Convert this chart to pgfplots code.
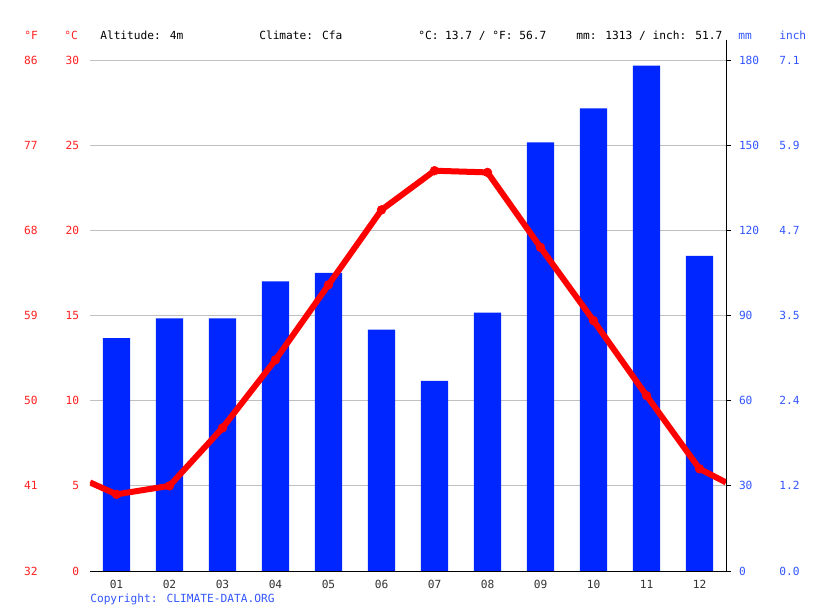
\documentclass[border=0pt]{standalone}
\usepackage{pgfplots}
\pgfplotsset{compat=1.18}
\usepackage{fontspec}
\setmainfont{DejaVu Sans Mono}
\definecolor{barblue}{HTML}{0026FF}
\definecolor{lblblue}{HTML}{3355FF}
\definecolor{lblred}{HTML}{FF2020}
\definecolor{gridgray}{HTML}{C0C0C0}
\definecolor{txtgray}{HTML}{333333}
\begin{document}
\fontsize{8.4}{10}\selectfont
\begin{tikzpicture}
\begin{axis}[name=ax,
  scale only axis, width=477pt, height=383.25pt,
  xmin=0.5, xmax=12.5, ymin=0, ymax=180,
  axis x line=bottom, axis y line=right,
  axis line style={-, black, line width=0.7pt},
  ytick={0,30,...,180},
  ymajorgrids, grid style={gridgray, line width=0.6pt},
  yticklabel style={lblblue, xshift=3pt},
  ytick style={black, line width=0.7pt},
  major tick length=3.75pt,
  tick align=outside,
  xtick={1,...,12},
  xticklabels={01,02,03,04,05,06,07,08,09,10,11,12},
  xticklabel style={txtgray},
  xtick style={draw=none},
  extra x ticks={0.5,1.5,...,12.5},
  extra x tick labels={},
  extra x tick style={tick style={draw=black, line width=0.7pt}, grid=none},
  /pgf/number format/assume math mode=true,
  tick label style={font=\fontsize{8.4}{10}\selectfont},
]
\addplot[ybar, bar width=0.51, draw=none, fill=barblue] coordinates {
(1,82) (2,89) (3,89) (4,102) (5,105) (6,85) (7,67) (8,91) (9,151) (10,163) (11,178) (12,111)};
\end{axis}
\begin{axis}[
  scale only axis, width=477pt, height=383.25pt,
  xmin=0.5, xmax=12.5, ymin=0, ymax=30,
  hide x axis,
  axis y line=left, axis line style={draw=none},
  ytick={0,5,...,30},
  ytick style={draw=none},
  yticklabel style={lblred, xshift=-3pt},
  /pgf/number format/assume math mode=true,
  tick label style={font=\fontsize{8.4}{10}\selectfont},
]
\addplot[red, line width=4.5pt, line join=round] coordinates {
(0.5,5.2) (1,4.5) (2,5.0) (3,8.4) (4,12.4) (5,16.8) (6,21.2) (7,23.5) (8,23.4) (9,19.0) (10,14.7) (11,10.3) (12,6.0) (12.5,5.2)};
\addplot[red, only marks, mark=*, mark size=3.3pt] coordinates {
(1,4.5) (2,5.0) (3,8.4) (4,12.4) (5,16.8) (6,21.2) (7,23.5) (8,23.4) (9,19.0) (10,14.7) (11,10.3) (12,6.0)};
\end{axis}
\begin{scope}[shift={(ax.south west)}, x=0.75pt, y=0.75pt]
\path (-90,-40) rectangle (725,571);
\draw[black, line width=0.7pt] (636,511) -- (636,531);
\node[anchor=base west, inner sep=0] at (10,531) {Altitude: 4m};
\node[anchor=base west, inner sep=0] at (169,531) {Climate: Cfa};
\node[anchor=base west, inner sep=0] at (328,531) {°C: 13.7 / °F: 56.7};
\node[anchor=base west, inner sep=0] at (486,531) {mm: 1313 / inch: 51.7};
\node[anchor=base west, inner sep=0, lblred] at (-66,531) {°F};
\node[anchor=base west, inner sep=0, lblred] at (-26,531) {°C};
\node[anchor=base west, inner sep=0, lblblue] at (648,531) {mm};
\node[anchor=base west, inner sep=0, lblblue] at (689,531) {inch};
\foreach \v/\t in {0/32,1/41,2/50,3/59,4/68,5/77,6/86}
  \node[anchor=east, inner sep=0, lblred] at (-52,\v*85.17) {\t};
\foreach \v/\t in {0/0.0,1/1.2,2/2.4,3/3.5,4/4.7,5/5.9,6/7.1}
  \node[anchor=west, inner sep=0, lblblue] at (689,\v*85.17) {\t};
\node[anchor=base west, inner sep=0, lblblue] at (0,-32) {Copyright: CLIMATE-DATA.ORG};
\end{scope}
\end{tikzpicture}
\end{document}
